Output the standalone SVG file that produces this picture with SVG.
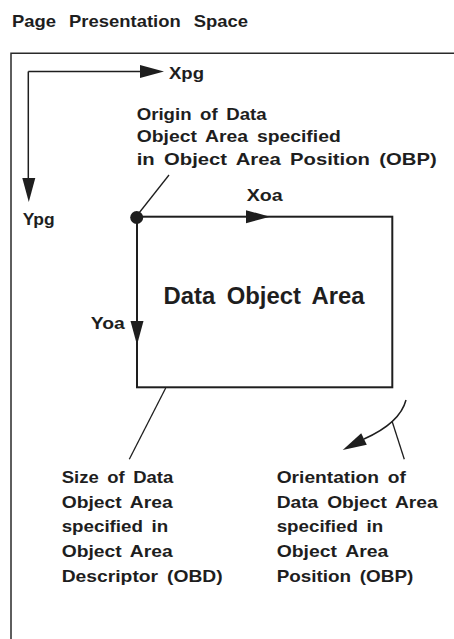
<svg xmlns="http://www.w3.org/2000/svg" xmlns:xlink="http://www.w3.org/1999/xlink" width="454" height="639" viewBox="0 0 454 639">
  <style>
    text { font-family: "Liberation Sans", Arial, sans-serif; font-weight: bold; font-size: 16.3px; fill: #1e1e1e; word-spacing: 3px; }
    .big { font-size: 24.5px; word-spacing: 5px; }
    .wide { word-spacing: 7px; }
    .frame { fill: none; stroke: #2a2a2a; stroke-width: 1.5; }
    .axis { fill: none; stroke: #1e1e1e; stroke-width: 1.5; }
    .box { fill: none; stroke: #1e1e1e; stroke-width: 2; }
    .leader { fill: none; stroke: #1e1e1e; stroke-width: 1.3; }
    .head { fill: #1e1e1e; }
  </style>
  <defs>
    <path id="ah" d="M0,0 L-24,-6.5 L-24,6.5 Z"/>
  </defs>
  <rect width="454" height="639" fill="#ffffff"/>

  <g id="title">
    <text class="wide" x="12" y="27" textLength="236" lengthAdjust="spacingAndGlyphs">Page Presentation Space</text>
  </g>

  <g id="page-frame">
    <path class="frame" d="M11,639 V53.3 H454"/>
  </g>

  <g id="page-axes">
    <text x="169" y="79" textLength="35" lengthAdjust="spacingAndGlyphs">Xpg</text>
    <text x="22.7" y="225" textLength="32" lengthAdjust="spacingAndGlyphs">Ypg</text>
  </g>

  <g id="origin-label">
    <text x="136.7" y="119.5" textLength="130" lengthAdjust="spacingAndGlyphs">Origin of Data</text>
    <text x="136.7" y="142" textLength="204" lengthAdjust="spacingAndGlyphs">Object Area specified</text>
    <text x="136.7" y="164.5" textLength="300" lengthAdjust="spacingAndGlyphs">in Object Area Position (OBP)</text>
  </g>

  <g id="data-object-area">
    <rect class="box" x="137" y="216.7" width="255.3" height="170.6"/>
    <circle cx="136.7" cy="217.5" r="6.5" class="head"/>
    <text class="big" x="163.5" y="304.3" textLength="201" lengthAdjust="spacingAndGlyphs">Data Object Area</text>
    <text x="246.7" y="200.7" textLength="36" lengthAdjust="spacingAndGlyphs">Xoa</text>
    <text x="90.7" y="329.3" textLength="34" lengthAdjust="spacingAndGlyphs">Yoa</text>
  </g>

  <g id="size-label">
    <text x="61.7" y="483" textLength="111.6" lengthAdjust="spacingAndGlyphs">Size of Data</text>
    <text x="61.7" y="507.6" textLength="111" lengthAdjust="spacingAndGlyphs">Object Area</text>
    <text x="61.7" y="532.2" textLength="106.6" lengthAdjust="spacingAndGlyphs">specified in</text>
    <text x="61.7" y="556.8" textLength="111" lengthAdjust="spacingAndGlyphs">Object Area</text>
    <text x="61.7" y="581.7" textLength="161" lengthAdjust="spacingAndGlyphs">Descriptor (OBD)</text>
  </g>

  <g id="orientation-label">
    <text x="276.7" y="483" textLength="129.3" lengthAdjust="spacingAndGlyphs">Orientation of</text>
    <text x="276.7" y="507.6" textLength="161" lengthAdjust="spacingAndGlyphs">Data Object Area</text>
    <text x="276.7" y="532.2" textLength="106.6" lengthAdjust="spacingAndGlyphs">specified in</text>
    <text x="276.7" y="556.8" textLength="111.6" lengthAdjust="spacingAndGlyphs">Object Area</text>
    <text x="276.7" y="581.7" textLength="136.6" lengthAdjust="spacingAndGlyphs">Position (OBP)</text>
  </g>

  <g id="connectors">
    <path class="axis" d="M28.3,71.5 H145"/>
    <use xlink:href="#ah" class="head" transform="translate(164,71.5)"/>
    <path class="axis" d="M28.3,71.5 V182"/>
    <use xlink:href="#ah" class="head" transform="translate(28.8,202) rotate(90)"/>
    <use xlink:href="#ah" class="head" transform="translate(270,216.7)"/>
    <use xlink:href="#ah" class="head" transform="translate(137,345) rotate(90)"/>
    <path class="leader" d="M169,175 L139,213"/>
    <path class="leader" d="M165.7,388 L129.3,459.3"/>
    <path class="leader" d="M392,421 L404.3,459.3"/>
    <path class="axis" d="M406,400 Q400,423 364,439"/>
    <path class="head" d="M342.7,450 L361.2,433.2 L366.8,444.8 Z"/>
  </g>
</svg>
